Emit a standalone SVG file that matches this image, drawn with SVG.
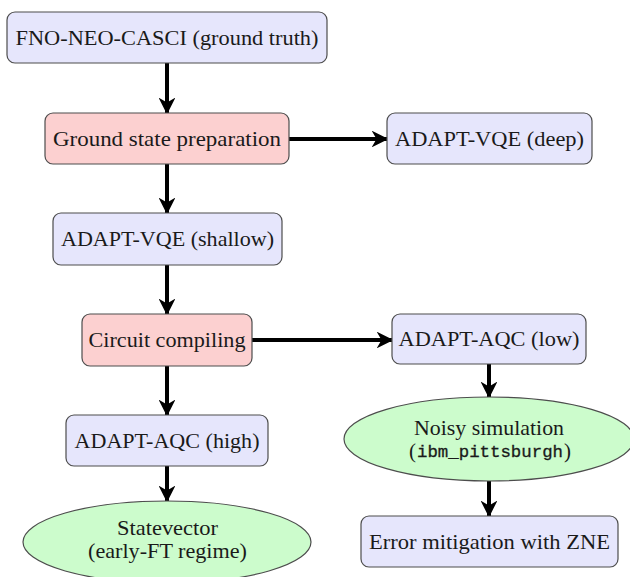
<svg xmlns="http://www.w3.org/2000/svg" width="630" height="577" viewBox="0 0 630 577">
<defs>
<style>
.blue{fill:#e6e6fc;stroke:#4d4d4d;stroke-width:1.2}
.red{fill:#fcd0d0;stroke:#4d4d4d;stroke-width:1.2}
.green{fill:#ccfccc;stroke:#4d4d4d;stroke-width:1.2}
text{font-family:"Liberation Serif","Times New Roman",serif;font-size:21px;fill:#1a1a1a;text-anchor:middle}
text.s{text-anchor:start}
.tt{font-family:"Liberation Mono","Courier New",monospace;font-size:17.4px;text-anchor:start;stroke:#1a1a1a;stroke-width:0.3}
.c{stroke:#000;stroke-width:4;fill:none;marker-end:url(#ah)}
</style>
<marker id="ah" viewBox="0 0 12 12" refX="11" refY="6" markerWidth="4.2" markerHeight="4.2" markerUnits="strokeWidth" orient="auto">
<path d="M0,0 L12,6 L0,12 L3.5,6 Z" fill="#000"/>
</marker>
</defs>
<rect width="630" height="577" fill="#fff"/>
<g id="connectors">
<path class="c" d="M167,63 V113"/>
<path class="c" d="M289,139 H387"/>
<path class="c" d="M167,164 V213"/>
<path class="c" d="M167,265 V314"/>
<path class="c" d="M252,340 H392"/>
<path class="c" d="M167,366 V415"/>
<path class="c" d="M167,466 V501"/>
<path class="c" d="M489,364 V397"/>
<path class="c" d="M489,481 V516"/>
</g>
<g id="n1"><rect class="blue" x="7" y="12" width="320" height="51" rx="8"/><text x="167" y="45" textLength="303" lengthAdjust="spacingAndGlyphs">FNO-NEO-CASCI (ground truth)</text></g>
<g id="n2"><rect class="red" x="45" y="113" width="244" height="51" rx="8"/><text x="167" y="146" textLength="228" lengthAdjust="spacingAndGlyphs">Ground state preparation</text></g>
<g id="n3"><rect class="blue" x="387" y="113" width="205" height="51" rx="8"/><text x="489.5" y="146" textLength="189" lengthAdjust="spacingAndGlyphs">ADAPT-VQE (deep)</text></g>
<g id="n4"><rect class="blue" x="53" y="213" width="229" height="52" rx="8"/><text x="167.5" y="246" textLength="213" lengthAdjust="spacingAndGlyphs">ADAPT-VQE (shallow)</text></g>
<g id="n5"><rect class="red" x="82" y="314" width="170" height="52" rx="8"/><text x="167" y="347" textLength="157" lengthAdjust="spacingAndGlyphs">Circuit compiling</text></g>
<g id="n6"><rect class="blue" x="392" y="314" width="194" height="50" rx="8"/><text x="489" y="346" textLength="181" lengthAdjust="spacingAndGlyphs">ADAPT-AQC (low)</text></g>
<g id="n7"><rect class="blue" x="66" y="415" width="202" height="51" rx="8"/><text x="167" y="448" textLength="185" lengthAdjust="spacingAndGlyphs">ADAPT-AQC (high)</text></g>
<g id="n8"><ellipse class="green" cx="489" cy="439" rx="145" ry="42"/><text x="489" y="435" textLength="150" lengthAdjust="spacingAndGlyphs">Noisy simulation</text><text class="s" x="409" y="458">(</text><text class="tt" x="417" y="457" textLength="146" lengthAdjust="spacingAndGlyphs">ibm_pittsburgh</text><text class="s" x="564" y="458">)</text></g>
<g id="n9"><ellipse class="green" cx="167" cy="542" rx="144" ry="41"/><text x="167.5" y="535" textLength="101" lengthAdjust="spacingAndGlyphs">Statevector</text><text x="167.5" y="558" textLength="159" lengthAdjust="spacingAndGlyphs">(early-FT regime)</text></g>
<g id="n10"><rect class="blue" x="361" y="516" width="257" height="51" rx="8"/><text x="489.5" y="549" textLength="241" lengthAdjust="spacingAndGlyphs">Error mitigation with ZNE</text></g>
</svg>
